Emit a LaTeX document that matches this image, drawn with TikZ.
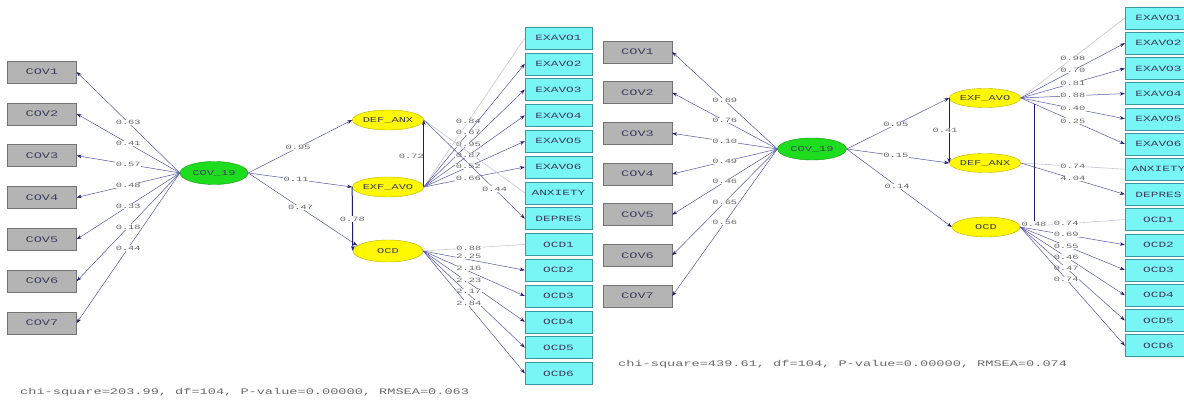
\documentclass[tikz,border=0pt]{standalone}
\usepackage{fontspec}
\newfontfamily\lis[FakeStretch=1.6]{Liberation Mono}
\usetikzlibrary{arrows.meta,shapes.geometric}
\definecolor{pathc}{RGB}{85,85,165}
\definecolor{headc}{RGB}{30,30,110}
\definecolor{fixc}{RGB}{200,200,212}
\definecolor{boxg}{RGB}{180,180,180}
\definecolor{boxgd}{RGB}{115,115,115}
\definecolor{cyanf}{RGB}{120,245,245}
\definecolor{cyand}{RGB}{60,150,160}
\definecolor{yel}{RGB}{255,248,0}
\definecolor{yeld}{RGB}{190,175,0}
\definecolor{grn}{RGB}{30,220,30}
\definecolor{grnd}{RGB}{20,150,20}
\definecolor{txtc}{RGB}{60,60,95}
\definecolor{lblc}{RGB}{105,105,105}
\tikzset{
  covbox/.style={draw=boxgd, fill=boxg, minimum width=69pt, minimum height=22pt, inner sep=0pt,
    font=\lis\fontsize{8.5}{8.5}\selectfont, text=txtc},
  indbox/.style={draw=cyand, fill=cyanf, minimum width=67pt, minimum height=22pt, inner sep=0pt,
    font=\lis\fontsize{8}{8}\selectfont, text=txtc},
  latent/.style={ellipse, draw=yeld, fill=yel, minimum width=70pt, minimum height=20pt, inner sep=0pt,
    font=\lis\fontsize{7.5}{7.5}\selectfont, text=txtc},
  exo/.style={latent, draw=grnd, fill=grn, minimum width=68pt, minimum height=23pt},
  pth/.style={draw=pathc, line width=0.5pt, -{Stealth[length=5pt,width=3.5pt,color=headc]}},
  fixp/.style={draw=fixc, line width=0.6pt},
  strongp/.style={draw=headc, line width=1pt, -{Stealth[length=5pt,width=3.5pt,color=headc]}},
  lbl/.style={font=\lis\fontsize{6.5}{6.5}\selectfont, text=lblc, fill=white, inner sep=0.4pt},
  chi/.style={font=\lis\fontsize{8.5}{8.5}\selectfont, text=lblc, anchor=west, inner sep=0pt}
}
\begin{document}
\begin{tikzpicture}[x=1pt,y=-1pt]
\useasboundingbox (0,0) rectangle (1184,403);
\clip (0,0) rectangle (1184,403);
\fill[white] (0,0) rectangle (1184,403);

% ================= LEFT MODEL =================
\foreach \i in {1,...,7} {
  \node[covbox] (cL\i) at (42,{72+41.83*(\i-1)}) {COV\i};
}
\node[exo] (covL) at (214,173) {COV\_19};
\node[latent] (defL) at (388,120) {DEF\_ANX};
\node[latent] (exfL) at (388,187) {EXF\_AVO};
\node[latent, minimum height=22pt] (ocdL) at (388,251) {OCD};

\foreach \t [count=\i] in {EXAVO1,EXAVO2,EXAVO3,EXAVO4,EXAVO5,EXAVO6,ANXIETY,DEPRES,OCD1,OCD2,OCD3,OCD4,OCD5,OCD6} {
  \node[indbox] (iL\i) at (558.5,{38+25.8*(\i-1)}) {\t};
}

\foreach \i/\v in {1/0.63,2/0.41,3/0.57,4/0.48,5/0.33,6/0.18,7/0.44} {
  \draw[pth] (covL.west) -- (cL\i.east) node[lbl,pos=0.5] {\v};
}
\draw[pth] (covL.east) -- (defL.west) node[lbl,pos=0.48] {0.95};
\draw[pth] (covL.east) -- (exfL.west) node[lbl,pos=0.46] {0.11};
\draw[pth] (covL.east) -- (ocdL.170) node[lbl,pos=0.48] {0.47};
\draw[strongp] (exfL.east) -- (defL.east) node[lbl,fill=none,pos=0.45,anchor=east,xshift=1pt] {0.72};
\draw[strongp] (exfL.west) -- (ocdL.west) node[lbl,pos=0.5] {0.78};

\draw[fixp] (exfL.east) -- (iL1.west) node[lbl,pos=0.44] {0.84};
\foreach \i/\v in {2/0.67,3/0.95,4/0.87,5/0.52,6/0.66} {
  \draw[pth] (exfL.east) -- (iL\i.west) node[lbl,pos=0.44] {\v};
}
\draw[fixp] (defL.east) -- (iL7.west);
\draw[pth] (defL.east) -- (iL8.west) node[lbl,pos=0.7] {0.44};
\draw[fixp] (ocdL.east) -- (iL9.west) node[lbl,pos=0.45] {0.88};
\foreach \i/\v in {10/2.25,11/2.16,12/2.23,13/2.17,14/2.84} {
  \draw[pth] (ocdL.east) -- (iL\i.west) node[lbl,pos=0.45,yshift=3pt] {\v};
}
\node[chi] (chiL) at (20,392) {chi-square=203.99, df=104, P-value=0.00000, RMSEA=0.063};

% ================= RIGHT MODEL =================
\foreach \i in {1,...,7} {
  \node[covbox] (cR\i) at (637.5,{52+40.67*(\i-1)}) {COV\i};
}
\node[exo, minimum width=69pt, minimum height=22pt] (covR) at (812,149) {COV\_19};
\node[latent, minimum width=66pt, minimum height=19pt] (exfR) at (985,98) {EXF\_AVO};
\node[latent, minimum width=66pt, minimum height=19pt] (defR) at (985,163) {DEF\_ANX};
\node[latent, minimum width=68pt, minimum height=20pt] (ocdR) at (986,227) {OCD};

\foreach \t [count=\i] in {EXAVO1,EXAVO2,EXAVO3,EXAVO4,EXAVO5,EXAVO6,ANXIETY,DEPRES,OCD1,OCD2,OCD3,OCD4,OCD5,OCD6} {
  \node[indbox] (iR\i) at (1158.5,{18+25.2*(\i-1)}) {\t};
}

\foreach \i/\v in {1/0.69,2/0.76,3/0.10,4/0.49,5/0.46,6/0.65,7/0.56} {
  \draw[pth] (covR.west) -- (cR\i.east) node[lbl,pos=0.5] {\v};
}
\draw[pth] (covR.east) -- (exfR.west) node[lbl,pos=0.48] {0.95};
\draw[pth] (covR.east) -- (defR.west) node[lbl,pos=0.48] {0.15};
\draw[pth] (covR.east) -- (ocdR.west) node[lbl,pos=0.48] {0.14};
\draw[strongp] (exfR.west) -- (defR.west) node[lbl,pos=0.5,xshift=-4pt] {0.41};

\draw[fixp] (exfR.east) -- (iR1.west) node[lbl,pos=0.5] {0.98};
\foreach \i/\v in {2/0.70,3/0.81,4/0.88,5/0.40,6/0.25} {
  \draw[pth] (exfR.east) -- (iR\i.west) node[lbl,pos=0.5] {\v};
}
\draw[fixp] (defR.east) -- (iR7.west) node[lbl,pos=0.5] {0.74};
\draw[pth] (defR.east) -- (iR8.west) node[lbl,pos=0.5] {4.04};
\draw[fixp] (ocdR.east) -- (iR9.west) node[lbl,pos=0.44] {0.74};
\foreach \i/\v in {10/0.69,11/0.55,12/0.46,13/0.47,14/0.74} {
  \draw[pth] (ocdR.east) -- (iR\i.west) node[lbl,pos=0.44] {\v};
}
\coordinate (vT) at (1034,104);
\coordinate (vB) at (1034,224);
\draw[draw=headc, line width=1pt] (vT) -- (vB) node[lbl,pos=1] {0.48};

\node[chi] (chiR) at (618,364) {chi-square=439.61, df=104, P-value=0.00000, RMSEA=0.074};
\end{tikzpicture}
\end{document}
